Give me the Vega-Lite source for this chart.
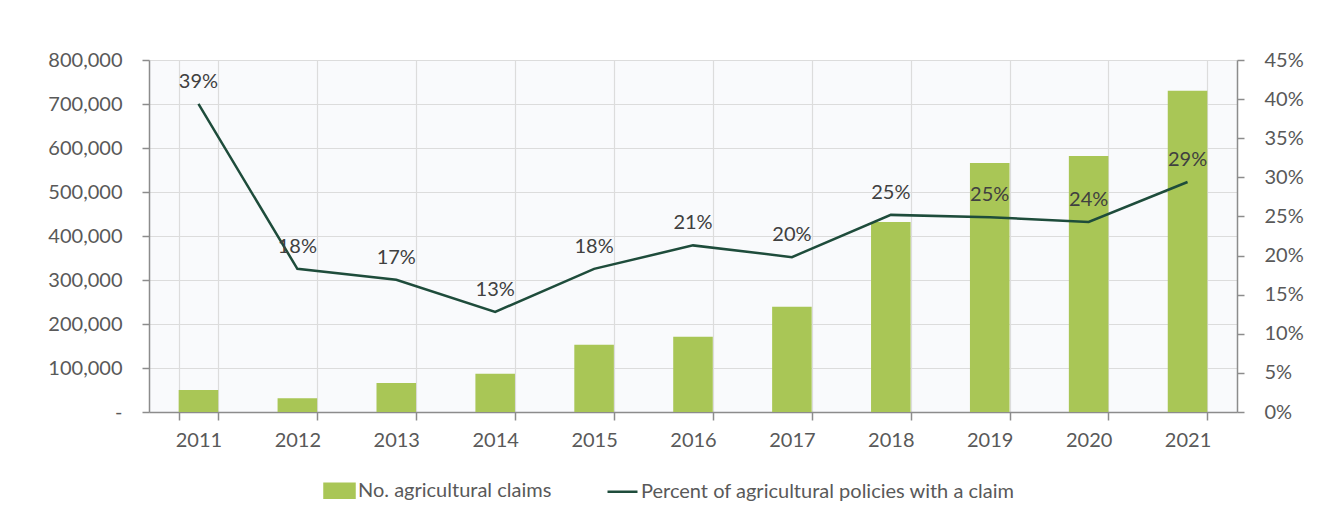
{
  "$schema": "https://vega.github.io/schema/vega-lite/v6.json",
  "width": 1088,
  "height": 352,
  "padding": {"left": 47, "top": 50, "right": 20, "bottom": 10},
  "background": "white",
  "config": {
    "font": "Lato",
    "view": {"fill": "#f9fafc", "stroke": null},
    "axis": {
      "labelFont": "Lato",
      "labelFontSize": 20,
      "labelColor": "#595959",
      "domainColor": "#8c8c8c",
      "domainWidth": 1.5,
      "tickColor": "#8c8c8c",
      "tickWidth": 1.5,
      "tickSize": 7,
      "gridColor": "#dcdcdc",
      "gridWidth": 1.2,
      "title": null
    }
  },
  "data": {
    "values": [
      {"year": "2011", "claims": 50000, "pct": 0.394},
      {"year": "2012", "claims": 31000, "pct": 0.183},
      {"year": "2013", "claims": 66000, "pct": 0.169},
      {"year": "2014", "claims": 87000, "pct": 0.128},
      {"year": "2015", "claims": 153000, "pct": 0.183},
      {"year": "2016", "claims": 171000, "pct": 0.213},
      {"year": "2017", "claims": 239000, "pct": 0.198},
      {"year": "2018", "claims": 432000, "pct": 0.252},
      {"year": "2019", "claims": 566000, "pct": 0.249},
      {"year": "2020", "claims": 582000, "pct": 0.243},
      {"year": "2021", "claims": 730000, "pct": 0.294}
    ]
  },
  "layer": [
    {
      "mark": {"type": "bar"},
      "encoding": {
        "x": {
          "field": "year",
          "type": "ordinal",
          "scale": {"paddingInner": 0.6, "paddingOuter": 0.3},
          "axis": {
            "labelAngle": 0,
            "tickBand": "extent",
            "grid": true,
            "tickSize": 8,
            "labelPadding": 10
          }
        },
        "y": {
          "field": "claims",
          "type": "quantitative",
          "scale": {"domain": [0, 800000], "nice": false},
          "axis": {
            "values": [0, 100000, 200000, 300000, 400000, 500000, 600000, 700000, 800000],
            "labelExpr": "datum.value === 0 ? '-' : format(datum.value, ',')",
            "labelPadding": 20,
            "grid": true
          }
        },
        "color": {
          "datum": "No. agricultural claims",
          "type": "nominal",
          "scale": {
            "domain": ["No. agricultural claims", "Percent of agricultural policies with a claim"],
            "range": ["#a9c656", "#1e4c3b"]
          },
          "legend": {
            "title": null,
            "orient": "none",
            "direction": "horizontal",
            "legendX": 174,
            "legendY": 414,
            "columnPadding": 50,
            "labelFont": "Lato",
            "labelFontSize": 20,
            "labelColor": "#595959",
            "labelOffset": 2,
            "labelLimit": 600,
            "symbolSize": 900,
            "encode": {
              "symbols": {
                "update": {
                  "shape": {"signal": "datum.value === 'No. agricultural claims' ? 'M-1,-0.47H1V0.47H-1Z' : 'M-1,0H1'"},
                  "fill": {"signal": "datum.value === 'No. agricultural claims' ? '#a9c656' : 'transparent'"},
                  "stroke": {"signal": "datum.value === 'No. agricultural claims' ? 'transparent' : '#1e4c3b'"},
                  "strokeWidth": {"value": 2.5},
                  "opacity": {"value": 1}
                }
              }
            }
          }
        }
      }
    },
    {
      "encoding": {
        "x": {"field": "year", "type": "ordinal"},
        "y": {
          "field": "pct",
          "type": "quantitative",
          "scale": {"domain": [0, 0.45], "nice": false},
          "axis": {
            "orient": "right",
            "values": [0, 0.05, 0.1, 0.15, 0.2, 0.25, 0.3, 0.35, 0.4, 0.45],
            "format": ".0%",
            "labelPadding": 20,
            "grid": false
          }
        }
      },
      "layer": [
        {
          "mark": {"type": "line", "strokeWidth": 2.5},
          "encoding": {
            "color": {"datum": "Percent of agricultural policies with a claim", "type": "nominal"}
          }
        },
        {
          "mark": {"type": "text", "dy": -22, "fontSize": 20, "font": "Lato", "color": "#404040"},
          "encoding": {
            "text": {"field": "pct", "type": "quantitative", "format": ".0%"}
          }
        }
      ]
    }
  ],
  "resolve": {"scale": {"y": "independent"}}
}
